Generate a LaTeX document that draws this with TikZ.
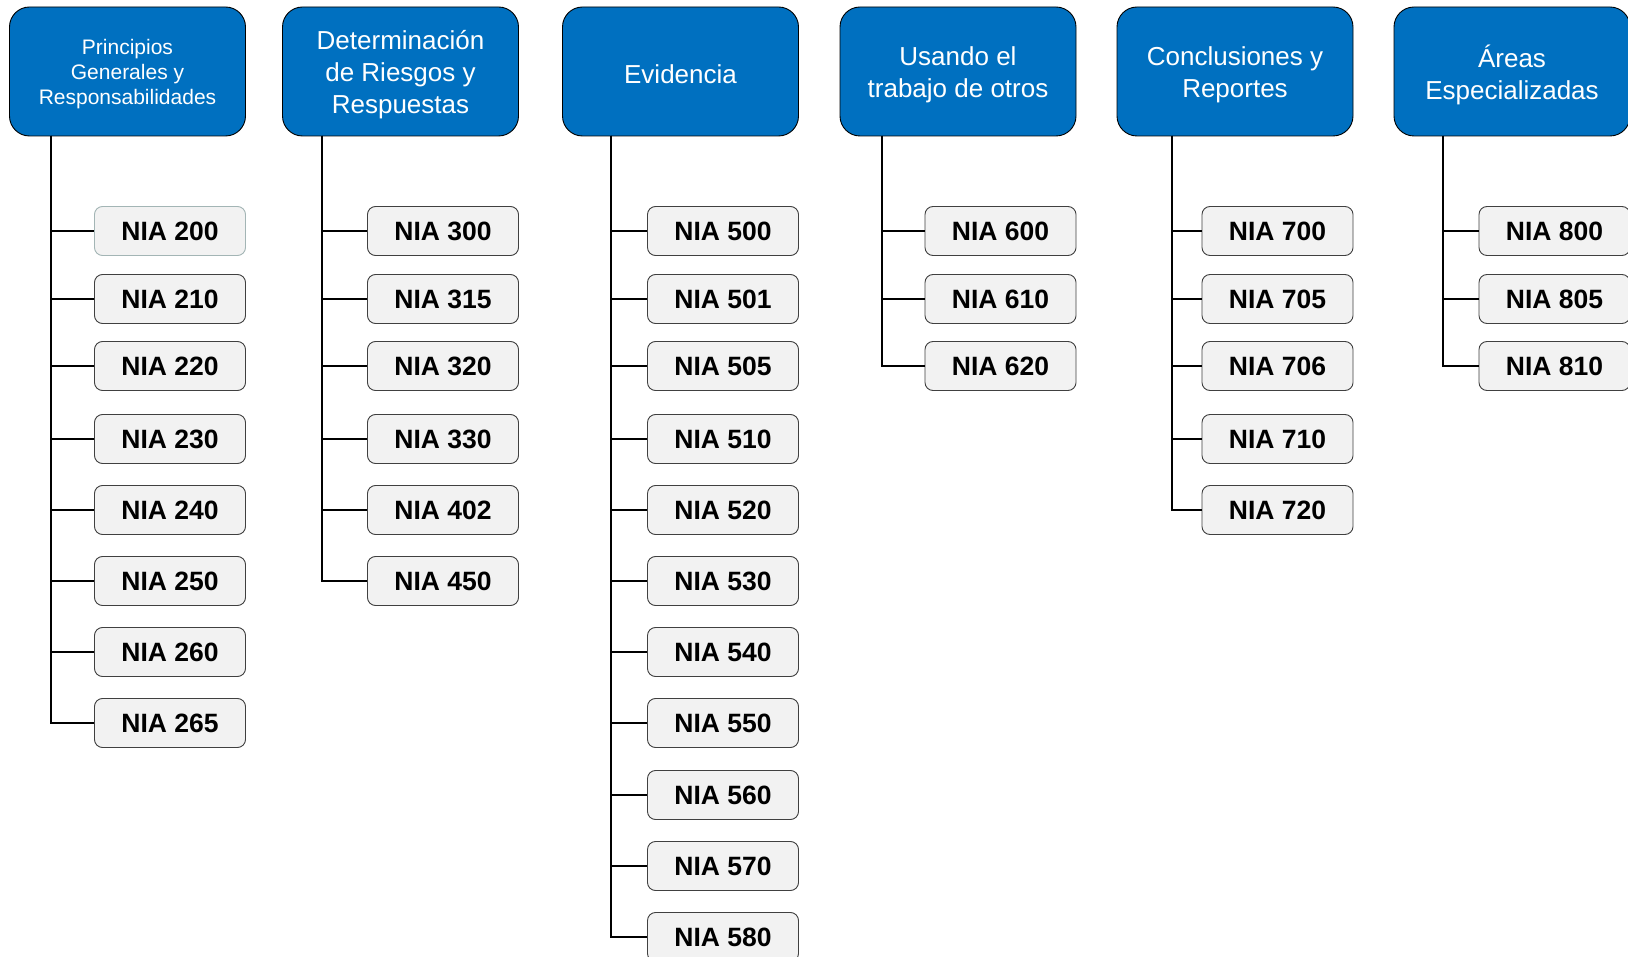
\documentclass[tikz,border=0pt]{standalone}
\usepackage{fontspec}
\setmainfont{Liberation Sans}
\definecolor{hdrblue}{HTML}{0070C0}
\definecolor{boxfill}{HTML}{F2F2F2}
\definecolor{boxline}{HTML}{404040}
\definecolor{paleline}{HTML}{A3B5B5}
\begin{document}
\begin{tikzpicture}[x=1pt,y=-1pt,
  header/.style={draw=black, line width=0.9pt, fill=hdrblue, rounded corners=20pt,
    minimum width=236pt, minimum height=129pt, inner sep=0pt},
  htext/.style={text=white, align=center, yshift=-3pt, inner sep=0pt},
  hsmall/.style={font=\fontsize{21}{25}\selectfont},
  hlarge/.style={font=\fontsize{26}{32}\selectfont},
  nia/.style={draw=boxline, line width=0.9pt, fill=boxfill, rounded corners=8pt,
    minimum width=151pt, minimum height=49pt, inner sep=0pt,
    font=\fontsize{26.5}{30}\selectfont\bfseries},
  conn/.style={draw=black, line width=1.2pt}
]
\fill[white] (0,0) rectangle (1628,957);
\useasboundingbox (0,0) rectangle (1628,957);
\clip (0,0) rectangle (1628,957);

% group headers (title set as a centred label, nudged slightly down)
\node[header,label={[htext,hsmall]center:Principios\\Generales y\\Responsabilidades}] (h1) at (127.5,71.5) {};
\node[header,label={[htext,hlarge]center:Determinación\\de Riesgos y\\Respuestas}] (h2) at (400.5,71.5) {};
\node[header,label={[htext,hlarge]center:Evidencia}] (h3) at (680.5,71.5) {};
\node[header,label={[htext,hlarge]center:Usando el\\trabajo de otros}] (h4) at (958,71.5) {};
\node[header,label={[htext,hlarge]center:Conclusiones y\\Reportes}] (h5) at (1235,71.5) {};
\node[header,label={[htext,hlarge]center:Áreas\\Especializadas}] (h6) at (1512,71.5) {};

% trunk start points under each header
\coordinate (v1) at (51,136);
\coordinate (v2) at (322,136);
\coordinate (v3) at (611,136);
\coordinate (v4) at (882,136);
\coordinate (v5) at (1172,136);
\coordinate (v6) at (1443,136);

% standards, column by column
\node[nia,draw=paleline] (n200) at (170,231) {NIA 200};
\foreach \lbl/\y in {210/299,220/366,230/439,240/510,250/581,260/652,265/723}
  \node[nia] (n\lbl) at (170,\y) {NIA \lbl};
\foreach \lbl/\y in {300/231,315/299,320/366,330/439,402/510,450/581}
  \node[nia] (n\lbl) at (443,\y) {NIA \lbl};
\foreach \lbl/\y in {500/231,501/299,505/366,510/439,520/510,530/581,540/652,550/723,560/795,570/866,580/937}
  \node[nia] (n\lbl) at (723,\y) {NIA \lbl};
\foreach \lbl/\y in {600/231,610/299,620/366}
  \node[nia] (n\lbl) at (1000.5,\y) {NIA \lbl};
\foreach \lbl/\y in {700/231,705/299,706/366,710/439,720/510}
  \node[nia] (n\lbl) at (1277.5,\y) {NIA \lbl};
\foreach \lbl/\y in {800/231,805/299,810/366}
  \node[nia] (n\lbl) at (1554.5,\y) {NIA \lbl};

% connectors
\foreach \lbl in {200,210,220,230,240,250,260,265}
  \draw[conn] (v1) |- (n\lbl.west);
\foreach \lbl in {300,315,320,330,402,450}
  \draw[conn] (v2) |- (n\lbl.west);
\foreach \lbl in {500,501,505,510,520,530,540,550,560,570,580}
  \draw[conn] (v3) |- (n\lbl.west);
\foreach \lbl in {600,610,620}
  \draw[conn] (v4) |- (n\lbl.west);
\foreach \lbl in {700,705,706,710,720}
  \draw[conn] (v5) |- (n\lbl.west);
\foreach \lbl in {800,805,810}
  \draw[conn] (v6) |- (n\lbl.west);
\end{tikzpicture}
\end{document}
